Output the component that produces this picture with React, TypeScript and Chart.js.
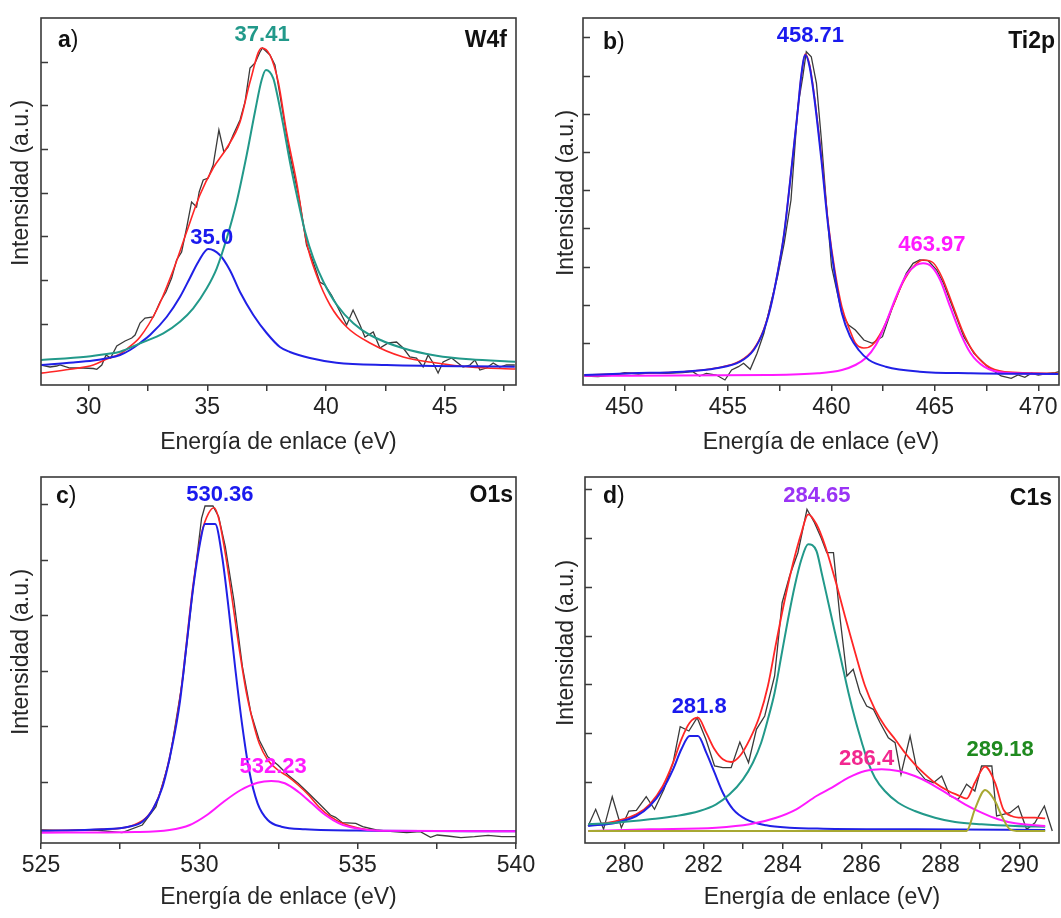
import React, { useEffect, useRef } from 'react';
import { Chart, registerables } from 'chart.js';

Chart.register(...registerables);

const FONT = '"Liberation Sans", Arial, Helvetica, sans-serif';

// ---------- colours ----------
const COL_RAW = '#3a3a3a';
const COL_FIT = '#ff2626';
const COL_BLUE = '#2020e6';
const COL_TEAL = '#22998a';
const COL_MAG = '#ff1aff';
const COL_OLIVE = '#a8a832';

// ---------- Panel a: W4f ----------
const W4F_X_TICKS = [30, 32.5, 35, 37.5, 40, 42.5, 45, 47.5];
const W4F_X_LABELS = [30, 35, 40, 45];
const W4F_Y_TICKS = [61.3, 105, 148.6, 192.3, 236, 279.6, 323.3];
const W4F_RAW: number[][] = [
  [27.96, 20], [28.38, 18], [28.66, 19], [28.8, 20], [29.22, 17], [29.36, 17], [29.78, 17], [30.2, 16.5],
  [30.35, 15.7], [30.56, 20], [30.74, 30], [30.93, 27], [31.19, 39], [31.54, 44], [31.82, 47], [31.96, 50],
  [32.17, 62], [32.38, 67], [32.73, 68], [33.01, 83], [33.26, 93], [33.5, 107], [33.71, 125], [33.92, 133],
  [34.13, 157], [34.34, 183], [34.55, 178], [34.66, 193], [34.83, 205], [35.04, 207], [35.25, 220],
  [35.49, 255], [35.7, 233], [35.88, 238], [36.09, 250], [36.38, 265], [36.59, 283], [36.8, 317],
  [37.01, 322], [37.22, 333], [37.33, 337], [37.64, 330], [37.85, 320], [38.06, 290], [38.48, 230],
  [38.9, 183], [39.18, 140], [39.46, 123], [39.74, 103], [39.95, 100], [40.23, 90], [40.51, 77],
  [40.87, 60], [41.14, 75], [41.43, 60], [41.64, 48], [41.99, 53], [42.27, 37], [42.62, 42], [42.97, 43],
  [43.25, 37], [43.53, 28], [43.81, 27], [44.09, 18], [44.3, 30], [44.51, 22], [44.72, 12], [44.93, 23],
  [45.29, 27], [45.5, 23], [45.77, 18], [46.06, 20], [46.27, 25], [46.48, 15], [46.76, 17], [47.04, 22],
  [47.32, 18], [47.6, 20], [47.95, 20],
];
const W4F_FIT: number[][] = [
  [27.96, 11.7], [29.22, 15.7], [30.2, 20], [30.77, 26], [31.33, 31], [31.61, 36], [32.17, 48], [32.87, 75],
  [33.57, 115], [34.13, 153], [34.69, 190], [35.25, 217], [35.82, 237], [36.38, 263], [36.8, 303],
  [37.29, 337], [37.64, 330], [37.99, 303], [38.34, 253], [38.76, 203], [39.18, 143], [39.6, 110],
  [40.17, 80], [40.87, 58], [41.85, 42], [43.25, 28], [44.66, 22], [46.06, 18], [47.96, 16],
];
const W4F_P1: number[][] = [
  [27.96, 20], [29.36, 22.5], [30.2, 24.5], [30.77, 26.7], [31.33, 30], [31.75, 35], [32.17, 42],
  [32.59, 50], [33.29, 68], [33.85, 88], [34.27, 107], [34.62, 123], [35.04, 136], [35.53, 130],
  [35.95, 115], [36.38, 93], [36.94, 70], [37.5, 52], [38.06, 38], [38.48, 33], [39.32, 27],
  [40.44, 22.3], [42.55, 20], [47.95, 18.3],
];
const W4F_P2: number[][] = [
  [27.96, 25], [29.9, 28.3], [30.77, 31], [31.33, 33.3], [32.17, 41.7], [33.15, 51.7], [33.85, 63.3],
  [34.41, 76.7], [34.98, 96.7], [35.4, 116.7], [35.82, 146.7], [36.24, 183.3], [36.66, 230],
  [37.01, 273.3], [37.29, 305], [37.47, 315], [37.78, 306.7], [37.92, 293.3], [38.2, 260], [38.48, 223.3],
  [38.77, 190], [39.12, 153.3], [39.47, 126.7], [39.89, 103.3], [40.46, 80], [41.15, 61.7], [41.85, 50],
  [43.25, 36.7], [44.66, 29.3], [46.06, 25.7], [47.96, 23.3],
];
const W4F_PEAKS = [
  { text: '37.41', x: 37.31, y: 350, color: COL_TEAL },
  { text: '35.0', x: 35.19, y: 147.5, color: '#1a1aee' },
];

// ---------- Panel b: Ti2p ----------
const TI_X_TICKS = [450, 452.5, 455, 457.5, 460, 462.5, 465, 467.5, 470];
const TI_X_LABELS = [450, 455, 460, 465, 470];
const TI_Y_TICKS = [42, 80.2, 118.4, 156.6, 194.8, 233, 271.2, 309.4, 347.6];
const TI_RAW: number[][] = [
  [448.06, 9], [448.72, 8.3], [449.53, 10], [450.02, 12.3], [450.68, 11], [451.33, 12.3], [451.99, 11.7],
  [452.81, 12.3], [453.3, 13.3], [453.63, 9], [453.96, 11.7], [454.44, 10], [454.86, 5], [455.18, 15],
  [455.51, 18.3], [455.76, 21.7], [456.08, 15.7], [456.41, 31.7], [456.74, 51.7], [457.07, 81.7],
  [457.4, 108.3], [457.72, 141.7], [458.05, 185], [458.38, 278.3], [458.62, 308.3], [458.79, 333.3],
  [459.03, 328.3], [459.28, 301.7], [459.52, 245], [459.77, 178.3], [460.01, 118.3], [460.26, 95],
  [460.51, 71.7], [460.83, 60], [461.16, 55], [461.57, 45], [461.98, 41.7], [462.47, 48.3], [462.96, 78.3],
  [463.29, 95], [463.62, 111.7], [463.95, 121.7], [464.27, 125], [464.68, 124.3], [465.09, 115],
  [465.42, 101.7], [465.91, 75], [466.4, 48.3], [466.89, 31.7], [467.55, 18.3], [468.2, 9], [468.69, 6.7],
  [469.02, 10], [469.35, 7.7], [469.67, 11.7], [470.0, 10], [470.49, 11.7], [470.82, 12.3], [471.0, 13.3],
];
const TI_FIT: number[][] = [
  [448.06, 10], [450.35, 11.7], [452.81, 13.3], [454.44, 17], [455.59, 24], [456.25, 36], [456.74, 56],
  [457.07, 79], [457.4, 112], [457.72, 152], [458.05, 212], [458.38, 275], [458.54, 308], [458.74, 331],
  [458.95, 320], [459.19, 287], [459.52, 228], [459.85, 162], [460.18, 113], [460.51, 78], [460.91, 54],
  [461.16, 42], [461.57, 37], [461.98, 40], [462.47, 55], [462.96, 78], [463.45, 102], [463.95, 118],
  [464.43, 125], [464.93, 122], [465.34, 108], [465.83, 82], [466.32, 55], [466.81, 35], [467.47, 20],
  [468.37, 13.3], [470.98, 11.7],
];
const TI_P1: number[][] = [
  [448.06, 10], [450.35, 11.7], [452.81, 13.3], [454.44, 16.7], [455.59, 23.3], [456.25, 35], [456.74, 55],
  [457.07, 78.3], [457.4, 111.7], [457.72, 151.7], [458.05, 211.7], [458.38, 275], [458.54, 308.3],
  [458.74, 330], [458.95, 318.3], [459.19, 285], [459.52, 225], [459.85, 158.3], [460.18, 108.3],
  [460.51, 71.7], [460.91, 48.3], [461.32, 35], [461.82, 25], [462.63, 18.3], [464.27, 13.3],
  [466.73, 11.7], [470.98, 11],
];
const TI_P2: number[][] = [
  [448.06, 9.3], [456.9, 10], [459.36, 11.7], [460.51, 15], [461.16, 20], [461.65, 26.7], [462.15, 40],
  [462.63, 61.7], [463.13, 88.3], [463.62, 110], [464.11, 120], [464.43, 121.7], [464.85, 118.3],
  [465.26, 105], [465.74, 78.3], [466.24, 51.7], [466.73, 31.7], [467.38, 18.3], [468.37, 12.3],
  [470.98, 11],
];
const TI_PEAKS = [
  { text: '458.71', x: 458.99, y: 349.5, color: '#1a1aee' },
  { text: '463.97', x: 464.86, y: 140.5, color: '#ff1aff' },
];

// ---------- Panel c: O1s ----------
const O_X_TICKS = [525, 527.5, 530, 532.5, 535, 537.5, 540];
const O_X_LABELS = [525, 530, 535, 540];
const O_Y_TICKS = [61.2, 116.7, 172.2, 227.7, 283.2, 338.7];
const O_RAW: number[][] = [
  [525.0, 13], [525.85, 12.3], [526.7, 13], [527.56, 10.3], [528.2, 18], [528.63, 36.3], [529.06, 83],
  [529.49, 166.3], [529.81, 256.3], [530.07, 324.7], [530.18, 337], [530.43, 337], [530.61, 326.3],
  [530.82, 296.3], [531.09, 243], [531.36, 176.3], [531.63, 129.7], [531.89, 103], [532.16, 86.3],
  [532.48, 78], [532.8, 68], [533.12, 59.7], [533.45, 49.7], [533.77, 39.7], [534.14, 28], [534.3, 25.7],
  [534.52, 20.3], [534.94, 19.7], [535.16, 16.3], [535.59, 13], [536.12, 11.3], [536.55, 10.3],
  [536.98, 11.3], [537.3, 5.7], [537.51, 8], [537.84, 7], [538.26, 5.3], [538.69, 6.3], [539.12, 7.7],
  [539.55, 6.3], [540.05, 6.3],
];
const O_FIT: number[][] = [
  [525.0, 12.3], [526.92, 13.7], [528.2, 22.3], [528.84, 58], [529.38, 143], [529.81, 259.7],
  [530.07, 309.7], [530.29, 329.7], [530.47, 335.3], [530.61, 324.7], [530.82, 289.7], [531.04, 243],
  [531.25, 196.3], [531.47, 153], [531.68, 123], [531.89, 99.7], [532.16, 83], [532.48, 73], [532.8, 66.3],
  [533.12, 58], [533.45, 48], [533.77, 36.3], [534.14, 26.3], [534.52, 19.7], [535.05, 14.7],
  [535.7, 12.3], [540.05, 11.7],
];
const O_P1: number[][] = [
  [525.0, 12.3], [526.92, 13.7], [527.77, 16.3], [528.2, 21.3], [528.52, 33], [528.84, 56.3],
  [529.16, 99.7], [529.38, 139.7], [529.59, 196.3], [529.81, 256.3], [530.02, 299.7], [530.18, 319],
  [530.5, 319], [530.72, 286.3], [530.93, 233], [531.14, 173], [531.36, 116.3], [531.57, 73],
  [531.84, 39.7], [532.16, 23], [532.59, 16.3], [533.34, 13.7], [535.48, 12.3], [540.05, 11.7],
];
const O_P2: number[][] = [
  [525.0, 10.3], [527.99, 11], [529.06, 13], [529.7, 18], [530.24, 28], [530.77, 41.3], [531.31, 53],
  [531.84, 60.3], [532.27, 62], [532.7, 59.7], [533.12, 51.3], [533.55, 39.7], [533.98, 28],
  [534.41, 19.7], [534.94, 14.7], [535.7, 12.3], [540.05, 11.7],
];
const O_PEAKS = [
  { text: '530.36', x: 530.65, y: 348, color: '#1a1aee' },
  { text: '532.23', x: 532.33, y: 76, color: '#ff1aff' },
];

// ---------- Panel d: C1s ----------
const C1S_X_TICKS = [280, 281, 282, 283, 284, 285, 286, 287, 288, 289, 290];
const C1S_X_LABELS = [280, 282, 284, 286, 288, 290];
const C1S_Y_TICKS = [61, 109.8, 158.6, 207.4, 256.2, 305, 353.8];
const C1S_RAW: number[][] = [
  [279.08, 17], [279.27, 33.7], [279.47, 13.7], [279.69, 46.3], [279.92, 15.3], [280.11, 32],
  [280.3, 32.7], [280.55, 46.3], [280.76, 33.7], [281.0, 53.7], [281.23, 80.3], [281.41, 116.3],
  [281.63, 112], [281.84, 125.3], [282.06, 103.7], [282.28, 77], [282.49, 75.3], [282.7, 75.3],
  [282.92, 101], [283.14, 80.3], [283.34, 113.7], [283.55, 127], [283.8, 167], [283.99, 240.3],
  [284.18, 267], [284.39, 290.3], [284.62, 333.7], [284.81, 320.3], [284.98, 305], [285.12, 290.3],
  [285.29, 290.3], [285.46, 223.7], [285.63, 167], [285.79, 173.7], [285.96, 150.3], [286.13, 137],
  [286.3, 133.7], [286.47, 120.3], [286.68, 105.3], [286.85, 100.3], [287.0, 68.7], [287.23, 107],
  [287.4, 73.7], [287.61, 63.7], [287.82, 60.3], [288.03, 67], [288.24, 47], [288.45, 43.7],
  [288.66, 58.7], [288.87, 52], [289.04, 77], [289.3, 77], [289.42, 27], [289.59, 28.7], [289.76, 30.3],
  [289.97, 37], [290.18, 13.7], [290.39, 20.3], [290.63, 37], [290.83, 12],
];
const C1S_FIT: number[][] = [
  [279.08, 17.7], [279.79, 22], [280.3, 28.7], [280.64, 38.7], [280.97, 57], [281.23, 80.3],
  [281.44, 103.7], [281.65, 120.3], [281.86, 125.3], [282.07, 110.3], [282.28, 93.7], [282.49, 83.7],
  [282.7, 81], [282.92, 87], [283.17, 103.7], [283.42, 127], [283.63, 157], [283.84, 200.3],
  [284.06, 243.7], [284.27, 280.3], [284.48, 310.3], [284.65, 328.7], [284.86, 318.7], [285.08, 297],
  [285.33, 263.7], [285.58, 227], [285.84, 190.3], [286.09, 157], [286.34, 133.7], [286.59, 117],
  [286.85, 103.7], [287.1, 90.3], [287.35, 78.7], [287.61, 68.7], [287.86, 60.3], [288.2, 52],
  [288.45, 47.7], [288.66, 44.3], [288.87, 60.3], [289.13, 76.3], [289.38, 60.3], [289.59, 33.7],
  [289.8, 27], [290.06, 25.3], [290.39, 25.3], [290.65, 24.7],
];
const C1S_P1: number[][] = [
  [279.08, 17], [279.79, 20.3], [280.3, 27], [280.64, 37], [280.97, 53.7], [281.23, 73.7], [281.44, 93.7],
  [281.65, 107], [281.86, 107], [282.07, 90.3], [282.28, 70.3], [282.49, 50.3], [282.75, 33.7],
  [283.08, 23.7], [283.59, 17.7], [284.18, 15.3], [285.03, 14.3], [287.35, 13.7], [290.65, 13],
];
const C1S_P2: number[][] = [
  [279.08, 18.7], [279.79, 20.3], [280.64, 23.7], [281.31, 27], [281.9, 32], [282.32, 38.7],
  [282.66, 48.7], [283.0, 63.7], [283.25, 80.3], [283.46, 100.3], [283.63, 123.7], [283.8, 150.3],
  [283.97, 187], [284.14, 223.7], [284.31, 257], [284.48, 283.7], [284.65, 298.7], [284.86, 292],
  [284.99, 270.3], [285.16, 240.3], [285.33, 210.3], [285.5, 180.3], [285.67, 150.3], [285.84, 123.7],
  [286.01, 100.3], [286.17, 80.3], [286.34, 65.3], [286.59, 52], [286.93, 40.3], [287.35, 32],
  [287.86, 25.3], [288.37, 21], [289.04, 18.7], [289.89, 17], [290.65, 16.3],
];
const C1S_P3: number[][] = [
  [279.08, 12], [280.64, 13.7], [282.32, 15.3], [283.17, 18.7], [283.84, 25.3], [284.35, 33.7],
  [284.86, 47], [285.25, 55.3], [285.67, 65.3], [286.09, 72], [286.51, 73.7], [286.93, 72], [287.35, 67],
  [287.78, 58.7], [288.2, 48.7], [288.62, 38.7], [289.04, 30.3], [289.46, 23.7], [289.89, 19.7],
  [290.65, 17],
];
const C1S_P4: number[][] = [
  [279.08, 12], [284.0, 12], [288.66, 12], [288.87, 33.7], [289.13, 53], [289.38, 42], [289.55, 27],
  [289.76, 13.7], [290.0, 12], [290.65, 12],
];
const C1S_PEAKS = [
  { text: '284.65', x: 284.87, y: 347.5, color: '#9a33f5' },
  { text: '281.8', x: 281.89, y: 136.5, color: '#1a1aee' },
  { text: '286.4', x: 286.13, y: 84.5, color: '#f2278f' },
  { text: '289.18', x: 289.51, y: 93.5, color: '#1f8a1f' },
];

// ---------- panel layout ----------
type Series = { data: number[][]; color: string; width: number; smooth: boolean };
type PanelCfg = {
  left: number; top: number; w: number; h: number;
  area: { left: number; top: number; right: number; bottom: number };
  xMin: number; xMax: number; yMax: number;
  xTicks: number[]; xLabels: number[]; yTicks: number[];
  series: Series[];
  peaks: { text: string; x: number; y: number; color: string }[];
  letter: string; letterPos: [number, number];
  element: string; elemPos: [number, number];
  yTitle: [number, number]; xTitleY: number;
};

const PANELS: PanelCfg[] = [
  {
    left: 0, top: 0, w: 560, h: 460,
    area: { left: 41, top: 18, right: 516, bottom: 385 },
    xMin: 28, xMax: 48, yMax: 367,
    xTicks: W4F_X_TICKS, xLabels: W4F_X_LABELS, yTicks: W4F_Y_TICKS,
    series: [
      { data: W4F_P2, color: COL_TEAL, width: 2, smooth: true },
      { data: W4F_P1, color: COL_BLUE, width: 2, smooth: true },
      { data: W4F_FIT, color: COL_FIT, width: 1.6, smooth: true },
      { data: W4F_RAW, color: COL_RAW, width: 1.3, smooth: false },
    ],
    peaks: W4F_PEAKS,
    letter: 'a', letterPos: [17, 23],
    element: 'W4f', elemPos: [9, 23],
    yTitle: [22, 183], xTitleY: 443,
  },
  {
    left: 530, top: 0, w: 531, h: 460,
    area: { left: 53, top: 18, right: 529, bottom: 385 },
    xMin: 448, xMax: 471, yMax: 367,
    xTicks: TI_X_TICKS, xLabels: TI_X_LABELS, yTicks: TI_Y_TICKS,
    series: [
      { data: TI_P1, color: COL_BLUE, width: 2, smooth: true },
      { data: TI_P2, color: COL_MAG, width: 2, smooth: true },
      { data: TI_FIT, color: COL_FIT, width: 1.6, smooth: true },
      { data: TI_RAW, color: COL_RAW, width: 1.3, smooth: false },
    ],
    peaks: TI_PEAKS,
    letter: 'b', letterPos: [20, 25],
    element: 'Ti2p', elemPos: [4, 24],
    yTitle: [36.5, 193], xTitleY: 443,
  },
  {
    left: 0, top: 460, w: 560, h: 458,
    area: { left: 41, top: 17, right: 516, bottom: 383 },
    xMin: 525, xMax: 540, yMax: 366,
    xTicks: O_X_TICKS, xLabels: O_X_LABELS, yTicks: O_Y_TICKS,
    series: [
      { data: O_P2, color: COL_MAG, width: 2, smooth: true },
      { data: O_P1, color: COL_BLUE, width: 2, smooth: true },
      { data: O_FIT, color: COL_FIT, width: 1.6, smooth: true },
      { data: O_RAW, color: COL_RAW, width: 1.3, smooth: false },
    ],
    peaks: O_PEAKS,
    letter: 'c', letterPos: [15, 20],
    element: 'O1s', elemPos: [3, 19],
    yTitle: [22, 192], xTitleY: 438,
  },
  {
    left: 530, top: 460, w: 531, h: 458,
    area: { left: 55, top: 17, right: 529, bottom: 383 },
    xMin: 279, xMax: 291, yMax: 366,
    xTicks: C1S_X_TICKS, xLabels: C1S_X_LABELS, yTicks: C1S_Y_TICKS,
    series: [
      { data: C1S_P4, color: COL_OLIVE, width: 2, smooth: true },
      { data: C1S_P3, color: COL_MAG, width: 2, smooth: true },
      { data: C1S_P2, color: COL_TEAL, width: 2, smooth: true },
      { data: C1S_P1, color: COL_BLUE, width: 2, smooth: true },
      { data: C1S_FIT, color: COL_FIT, width: 1.8, smooth: true },
      { data: C1S_RAW, color: COL_RAW, width: 1.3, smooth: false },
    ],
    peaks: C1S_PEAKS,
    letter: 'd', letterPos: [18, 20],
    element: 'C1s', elemPos: [7, 22],
    yTitle: [36.5, 183], xTitleY: 438,
  },
];

const AXIS = '#3a3a3a';
const TEXT = '#262626';

function decorPlugin(cfg: PanelCfg) {
  return {
    id: 'panelDecor',
    afterDraw(chart: any) {
      const { ctx, chartArea: a, scales } = chart;
      const xs = scales.x;
      const ys = scales.y;
      ctx.save();
      ctx.strokeStyle = AXIS;
      ctx.lineWidth = 1.6;
      ctx.strokeRect(a.left, a.top, a.right - a.left, a.bottom - a.top);
      ctx.beginPath();
      for (const v of cfg.yTicks) {
        const y = Math.round(ys.getPixelForValue(v)) + 0.5;
        ctx.moveTo(a.left, y);
        ctx.lineTo(a.left + 7, y);
      }
      ctx.stroke();
      ctx.textAlign = 'center';
      ctx.textBaseline = 'middle';
      ctx.font = `bold 22px ${FONT}`;
      for (const p of cfg.peaks) {
        ctx.fillStyle = p.color;
        ctx.fillText(p.text, xs.getPixelForValue(p.x), ys.getPixelForValue(p.y));
      }
      ctx.fillStyle = '#111';
      ctx.textAlign = 'left';
      ctx.font = `bold 23px ${FONT}`;
      const lx = a.left + cfg.letterPos[0];
      const ly = a.top + cfg.letterPos[1];
      ctx.fillText(cfg.letter, lx, ly);
      const lw = ctx.measureText(cfg.letter).width;
      ctx.font = `23px ${FONT}`;
      ctx.fillText(')', lx + lw, ly);
      ctx.textAlign = 'right';
      ctx.font = `bold 23px ${FONT}`;
      ctx.fillText(cfg.element, a.right - cfg.elemPos[0], a.top + cfg.elemPos[1]);
      ctx.fillStyle = TEXT;
      ctx.font = `23px ${FONT}`;
      ctx.textAlign = 'center';
      ctx.fillText('Energía de enlace (eV)', (a.left + a.right) / 2, cfg.xTitleY);
      ctx.translate(cfg.yTitle[0], cfg.yTitle[1]);
      ctx.rotate(-Math.PI / 2);
      ctx.fillText('Intensidad (a.u.)', 0, 0);
      ctx.restore();
    },
  };
}

function buildConfig(cfg: PanelCfg): any {
  return {
    type: 'line',
    data: {
      datasets: cfg.series.map((s) => ({
        data: s.data.map(([x, y]) => ({ x, y })),
        borderColor: s.color,
        backgroundColor: s.color,
        borderWidth: s.width,
        pointRadius: 0,
        fill: false,
        tension: s.smooth ? 0.4 : 0,
        cubicInterpolationMode: s.smooth ? 'monotone' : 'default',
      })),
    },
    options: {
      responsive: false,
      animation: false,
      events: [],
      layout: {
        padding: { left: cfg.area.left, top: cfg.area.top, right: cfg.w - cfg.area.right, bottom: 0 },
      },
      plugins: { legend: { display: false }, tooltip: { enabled: false }, title: { display: false } },
      scales: {
        x: {
          type: 'linear',
          min: cfg.xMin,
          max: cfg.xMax,
          afterBuildTicks: (scale: any) => {
            scale.ticks = cfg.xTicks.map((v) => ({ value: v }));
          },
          afterFit: (scale: any) => {
            scale.height = cfg.h - cfg.area.bottom;
            scale.paddingLeft = 0;
            scale.paddingRight = 0;
          },
          grid: {
            display: true,
            drawOnChartArea: false,
            drawTicks: true,
            tickLength: 6,
            color: AXIS,
            lineWidth: 1.5,
          },
          border: { display: false },
          ticks: {
            autoSkip: false,
            maxRotation: 0,
            padding: 3,
            color: '#222',
            font: { family: FONT, size: 23 },
            callback: (v: number) => (cfg.xLabels.includes(v) ? String(v) : ''),
          },
        },
        y: {
          type: 'linear',
          display: false,
          min: 0,
          max: cfg.yMax,
        },
      },
    },
    plugins: [decorPlugin(cfg)],
  };
}

function Panel({ cfg }: { cfg: PanelCfg }) {
  const ref = useRef<HTMLCanvasElement | null>(null);
  useEffect(() => {
    if (!ref.current) return;
    const chart = new Chart(ref.current, buildConfig(cfg));
    return () => chart.destroy();
  }, [cfg]);
  return (
    <canvas
      ref={ref}
      width={cfg.w}
      height={cfg.h}
      style={{ position: 'absolute', left: cfg.left, top: cfg.top, width: cfg.w, height: cfg.h }}
    />
  );
}

export default function App() {
  return (
    <div style={{ position: 'absolute', left: 0, top: 0, width: 1061, height: 918, background: '#fff', overflow: 'hidden' }}>
      {PANELS.map((p, i) => (
        <Panel key={i} cfg={p} />
      ))}
    </div>
  );
}
